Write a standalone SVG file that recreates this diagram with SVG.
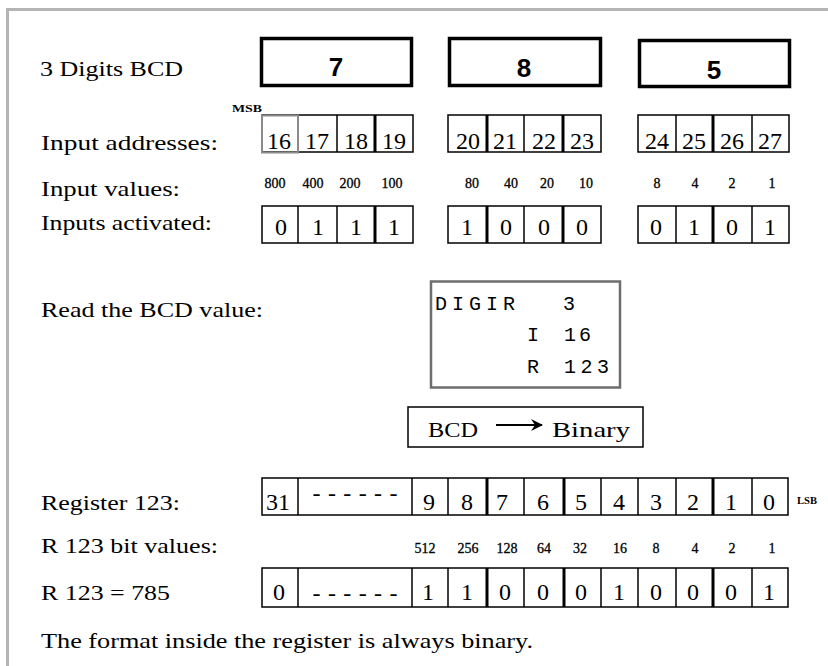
<svg xmlns="http://www.w3.org/2000/svg" width="828" height="666" viewBox="0 0 828 666">
  <style>
    .lbl { font-family: "Liberation Serif", "Times New Roman", serif; font-size: 22px; fill: #000; }
    .cell { font-family: "Liberation Serif", "Times New Roman", serif; font-size: 24px; fill: #000; text-anchor: middle; }
    .val { font-family: "Liberation Serif", "Times New Roman", serif; font-size: 14px; fill: #000; text-anchor: middle; stroke: #000; stroke-width: 0.3; }
    .tiny { font-family: "Liberation Serif", "Times New Roman", serif; font-size: 10px; font-weight: bold; fill: #000; }
    .digit { font-family: "Liberation Sans", Arial, sans-serif; font-size: 26px; font-weight: bold; fill: #000; text-anchor: middle; }
    .mono { font-family: "Liberation Mono", "Courier New", monospace; font-size: 20px; fill: #000; }
    .box { fill: #fff; stroke: #000; stroke-width: 1.5; }
    .big { fill: #fff; stroke: #000; stroke-width: 3.5; }
    .div { stroke: #000; stroke-width: 1.5; }
    .thk { stroke: #000; stroke-width: 3; }
  </style>
  <defs>
    <marker id="arrow" viewBox="0 0 12 12" refX="11" refY="6" markerWidth="12" markerHeight="12" markerUnits="userSpaceOnUse" orient="auto">
      <path d="M0,0 L12,6 L0,12 L4,6 Z" fill="#000"/>
    </marker>
  </defs>

  <rect width="828" height="666" fill="#fff"/>
  <!-- outer frame -->
  <rect x="7.5" y="9.5" width="900" height="720" fill="none" stroke="#b4b4b4" stroke-width="3"/>

  <!-- row labels -->
  <g id="labels">
    <text class="lbl" x="40" y="76" textLength="143" lengthAdjust="spacingAndGlyphs">3 Digits BCD</text>
    <text class="lbl" x="41" y="150" textLength="177" lengthAdjust="spacingAndGlyphs">Input addresses:</text>
    <text class="lbl" x="41" y="196" textLength="139" lengthAdjust="spacingAndGlyphs">Input values:</text>
    <text class="lbl" x="41" y="230" textLength="171" lengthAdjust="spacingAndGlyphs">Inputs activated:</text>
    <text class="lbl" x="41" y="317" textLength="222" lengthAdjust="spacingAndGlyphs">Read the BCD value:</text>
    <text class="lbl" x="41" y="510" textLength="139" lengthAdjust="spacingAndGlyphs">Register 123:</text>
    <text class="lbl" x="41" y="553" textLength="177" lengthAdjust="spacingAndGlyphs">R 123 bit values:</text>
    <text class="lbl" x="41" y="600" textLength="129" lengthAdjust="spacingAndGlyphs">R 123 = 785</text>
    <text class="lbl" x="41" y="648" textLength="492" lengthAdjust="spacingAndGlyphs">The format inside the register is always binary.</text>
  </g>

  <!-- BCD digit boxes -->
  <g id="digit-7">
    <rect class="big" x="261.5" y="38.5" width="150" height="47"/>
    <text class="digit" x="336" y="76">7</text>
  </g>
  <g id="digit-8">
    <rect class="big" x="449.5" y="38.5" width="151" height="47"/>
    <text class="digit" x="524" y="77">8</text>
  </g>
  <g id="digit-5">
    <rect class="big" x="639.5" y="40.5" width="150" height="46"/>
    <text class="digit" x="714" y="79">5</text>
  </g>

  <!-- input addresses -->
  <text class="tiny" x="232" y="112" textLength="30" lengthAdjust="spacingAndGlyphs">MSB</text>
  <g id="addr-group-1">
    <rect class="box" x="262" y="115" width="151" height="37"/>
    <line class="div" x1="298" y1="115" x2="298" y2="152"/>
    <line class="div" x1="337" y1="115" x2="337" y2="152"/>
    <line class="thk" x1="375" y1="115" x2="375" y2="152"/>
    <rect x="262" y="115.5" width="36" height="37" fill="none" stroke="#8a8a8a" stroke-width="2"/>
    <text class="cell" x="279" y="149">16</text>
    <text class="cell" x="317" y="149">17</text>
    <text class="cell" x="356" y="149">18</text>
    <text class="cell" x="394" y="149">19</text>
  </g>
  <g id="addr-group-2">
    <rect class="box" x="448" y="115" width="153" height="37"/>
    <line class="thk" x1="487" y1="115" x2="487" y2="152"/>
    <line class="div" x1="524" y1="115" x2="524" y2="152"/>
    <line class="thk" x1="563" y1="115" x2="563" y2="152"/>
    <text class="cell" x="468" y="149">20</text>
    <text class="cell" x="505" y="149">21</text>
    <text class="cell" x="544" y="149">22</text>
    <text class="cell" x="582" y="149">23</text>
  </g>
  <g id="addr-group-3">
    <rect class="box" x="638" y="115" width="151" height="37"/>
    <line class="div" x1="676" y1="115" x2="676" y2="152"/>
    <line class="thk" x1="713" y1="115" x2="713" y2="152"/>
    <line class="div" x1="752" y1="115" x2="752" y2="152"/>
    <text class="cell" x="657" y="149">24</text>
    <text class="cell" x="694" y="149">25</text>
    <text class="cell" x="732" y="149">26</text>
    <text class="cell" x="770" y="149">27</text>
  </g>

  <!-- input values -->
  <g id="input-values">
    <text class="val" x="275" y="188">800</text>
    <text class="val" x="313" y="188">400</text>
    <text class="val" x="350" y="188">200</text>
    <text class="val" x="392" y="188">100</text>
    <text class="val" x="472" y="188">80</text>
    <text class="val" x="511" y="188">40</text>
    <text class="val" x="547" y="188">20</text>
    <text class="val" x="586" y="188">10</text>
    <text class="val" x="657" y="188">8</text>
    <text class="val" x="695" y="188">4</text>
    <text class="val" x="732" y="188">2</text>
    <text class="val" x="772" y="188">1</text>
  </g>

  <!-- inputs activated -->
  <g id="act-group-1">
    <rect class="box" x="262" y="206" width="151" height="37"/>
    <line class="div" x1="298" y1="206" x2="298" y2="243"/>
    <line class="div" x1="337" y1="206" x2="337" y2="243"/>
    <line class="thk" x1="375" y1="206" x2="375" y2="243"/>
    <text class="cell" x="281" y="235">0</text>
    <text class="cell" x="318" y="235">1</text>
    <text class="cell" x="356" y="235">1</text>
    <text class="cell" x="394" y="235">1</text>
  </g>
  <g id="act-group-2">
    <rect class="box" x="448" y="206" width="153" height="37"/>
    <line class="thk" x1="487" y1="206" x2="487" y2="243"/>
    <line class="div" x1="524" y1="206" x2="524" y2="243"/>
    <line class="thk" x1="563" y1="206" x2="563" y2="243"/>
    <text class="cell" x="467" y="235">1</text>
    <text class="cell" x="506" y="235">0</text>
    <text class="cell" x="544" y="235">0</text>
    <text class="cell" x="582" y="235">0</text>
  </g>
  <g id="act-group-3">
    <rect class="box" x="638" y="206" width="151" height="37"/>
    <line class="div" x1="676" y1="206" x2="676" y2="243"/>
    <line class="thk" x1="713" y1="206" x2="713" y2="243"/>
    <line class="div" x1="752" y1="206" x2="752" y2="243"/>
    <text class="cell" x="656" y="235">0</text>
    <text class="cell" x="694" y="235">1</text>
    <text class="cell" x="732" y="235">0</text>
    <text class="cell" x="770" y="235">1</text>
  </g>

  <!-- DIGIR instruction block -->
  <g id="digir">
    <rect x="431" y="281.5" width="189" height="106" fill="#fff" stroke="#6e6e6e" stroke-width="2.5"/>
    <text class="mono" x="435" y="310" textLength="80" lengthAdjust="spacing">DIGIR</text>
    <text class="mono" x="563" y="310">3</text>
    <text class="mono" x="527" y="341">I</text>
    <text class="mono" x="564" y="341" textLength="27" lengthAdjust="spacing">16</text>
    <text class="mono" x="527" y="373">R</text>
    <text class="mono" x="564" y="373" textLength="45" lengthAdjust="spacing">123</text>
  </g>

  <!-- conversion note -->
  <g id="bcd-to-binary">
    <rect class="box" x="408" y="407" width="235" height="40"/>
    <text class="lbl" x="428" y="437" textLength="50" lengthAdjust="spacingAndGlyphs">BCD</text>
    <text class="lbl" x="552" y="437" textLength="78" lengthAdjust="spacingAndGlyphs">Binary</text>
  </g>
  <g id="connectors">
    <line x1="496" y1="425" x2="542" y2="425" stroke="#000" stroke-width="2" marker-end="url(#arrow)"/>
  </g>

  <!-- register 123 bit numbers -->
  <g id="register-bits">
    <rect class="box" x="262" y="478" width="526" height="37"/>
    <line class="div" x1="298" y1="478" x2="298" y2="515"/>
    <line class="div" x1="412" y1="478" x2="412" y2="515"/>
    <line class="div" x1="448" y1="478" x2="448" y2="515"/>
    <line class="thk" x1="487" y1="478" x2="487" y2="515"/>
    <line class="div" x1="524" y1="478" x2="524" y2="515"/>
    <line class="thk" x1="564" y1="478" x2="564" y2="515"/>
    <line class="div" x1="601" y1="478" x2="601" y2="515"/>
    <line class="div" x1="638" y1="478" x2="638" y2="515"/>
    <line class="div" x1="676" y1="478" x2="676" y2="515"/>
    <line class="thk" x1="713" y1="478" x2="713" y2="515"/>
    <line class="div" x1="752" y1="478" x2="752" y2="515"/>
    <text class="cell" x="278" y="510">31</text>
    <text class="cell" x="355" y="501" textLength="85" lengthAdjust="spacing">------</text>
    <text class="cell" x="429" y="510">9</text>
    <text class="cell" x="467" y="510">8</text>
    <text class="cell" x="502" y="510">7</text>
    <text class="cell" x="543" y="510">6</text>
    <text class="cell" x="581" y="510">5</text>
    <text class="cell" x="619" y="510">4</text>
    <text class="cell" x="656" y="510">3</text>
    <text class="cell" x="693" y="510">2</text>
    <text class="cell" x="731" y="510">1</text>
    <text class="cell" x="769" y="510">0</text>
    <text class="tiny" x="797" y="504" textLength="20" lengthAdjust="spacingAndGlyphs">LSB</text>
  </g>

  <!-- bit weights -->
  <g id="bit-values">
    <text class="val" x="425" y="553">512</text>
    <text class="val" x="468" y="553">256</text>
    <text class="val" x="507" y="553">128</text>
    <text class="val" x="544" y="553">64</text>
    <text class="val" x="580" y="553">32</text>
    <text class="val" x="620" y="553">16</text>
    <text class="val" x="656" y="553">8</text>
    <text class="val" x="695" y="553">4</text>
    <text class="val" x="732" y="553">2</text>
    <text class="val" x="772" y="553">1</text>
  </g>

  <!-- register 123 contents -->
  <g id="register-value">
    <rect class="box" x="262" y="568" width="526" height="39"/>
    <line class="div" x1="298" y1="568" x2="298" y2="607"/>
    <line class="div" x1="412" y1="568" x2="412" y2="607"/>
    <line class="div" x1="448" y1="568" x2="448" y2="607"/>
    <line class="thk" x1="487" y1="568" x2="487" y2="607"/>
    <line class="div" x1="524" y1="568" x2="524" y2="607"/>
    <line class="thk" x1="564" y1="568" x2="564" y2="607"/>
    <line class="div" x1="601" y1="568" x2="601" y2="607"/>
    <line class="div" x1="638" y1="568" x2="638" y2="607"/>
    <line class="div" x1="676" y1="568" x2="676" y2="607"/>
    <line class="thk" x1="713" y1="568" x2="713" y2="607"/>
    <line class="div" x1="752" y1="568" x2="752" y2="607"/>
    <text class="cell" x="279" y="600">0</text>
    <text class="cell" x="355" y="601" textLength="85" lengthAdjust="spacing">------</text>
    <text class="cell" x="428" y="600">1</text>
    <text class="cell" x="467" y="600">1</text>
    <text class="cell" x="505" y="600">0</text>
    <text class="cell" x="543" y="600">0</text>
    <text class="cell" x="581" y="600">0</text>
    <text class="cell" x="619" y="600">1</text>
    <text class="cell" x="656" y="600">0</text>
    <text class="cell" x="693" y="600">0</text>
    <text class="cell" x="731" y="600">0</text>
    <text class="cell" x="769" y="600">1</text>
  </g>
</svg>
